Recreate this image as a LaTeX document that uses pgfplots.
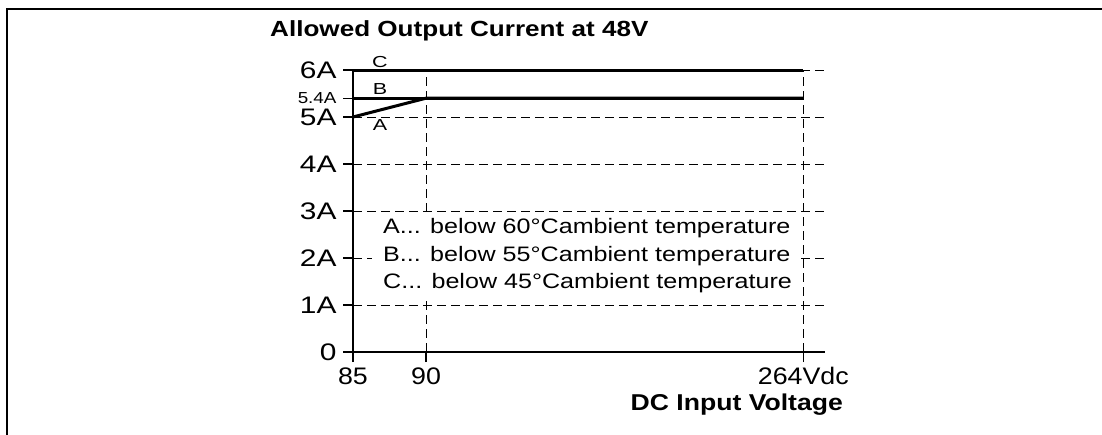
\documentclass[border=0pt]{standalone}
\usepackage{fontspec}
\setmainfont{Liberation Sans}
\usepackage{pgfplots}
\pgfplotsset{compat=1.18}
\newcommand{\sx}[2]{\scalebox{#1}[1]{#2}}
\begin{document}
\begin{tikzpicture}
\useasboundingbox (0,0) rectangle (1102bp,435bp);
\begin{scope}
\clip (0,0) rectangle (1102bp,435bp);
\draw[line width=2.2bp] (7bp,-20bp) -- (7bp,426bp) -- (1120bp,426bp);
\end{scope}
\begin{axis}[
  at={(353bp,83bp)}, anchor=south west,
  scale only axis, width=472bp, height=282bp,
  x coord trafo/.code={\pgfmathparse{(#1<=90) ? (#1-85)*14.6 : 73+(#1-90)*2.166667}},
  xmin=85, xmax=274, ymin=0, ymax=6,
  axis lines=left, axis line style={-, line width=1.6bp},
  xtick={85,90,264}, xticklabels={\sx{1.12}{85},\sx{1.12}{90},\sx{1.12}{264Vdc}},
  ytick={0,1,2,3,4,5,6}, yticklabels={\sx{1.25}{0},\sx{1.25}{1A},\sx{1.25}{2A},\sx{1.25}{3A},\sx{1.25}{4A},\sx{1.25}{5A},\sx{1.25}{6A}},
  extra y ticks={5.4}, extra y tick labels={\sx{1.18}{5.4A}},
  extra y tick style={grid=none, tick label style={font=\fontsize{16}{16}\selectfont}},
  tick align=outside, major tick length=10bp, tick style={line width=1.3bp, black},
  grid=major, major grid style={line width=0.8bp, black, dash pattern=on 9bp off 5bp},
  tick label style={font=\fontsize{24}{24}\selectfont},
  yticklabel style={xshift=-3bp},
  xticklabel style={yshift=-2bp},
  /pgf/number format/assume math mode=true,
  clip=false,
]
\addplot[line width=3bp, black] coordinates {(85,6) (264,6)};
\addplot[line width=3bp, black] coordinates {(85,5.4) (264,5.4)};
\addplot[line width=3bp, black] coordinates {(85,5) (90,5.4) (264,5.4)};
\end{axis}
\begin{scope}[x=1bp, y=-1bp, yshift=435bp]
\fill[white] (372,216) rectangle (800,300);
\node[anchor=west, inner sep=0pt, font=\fontsize{21}{21}\selectfont] at (383,228) {\sx{1.2}{A... below 60°Cambient temperature}};
\node[anchor=west, inner sep=0pt, font=\fontsize{21}{21}\selectfont] at (383,256) {\sx{1.2}{B... below 55°Cambient temperature}};
\node[anchor=west, inner sep=0pt, font=\fontsize{21}{21}\selectfont] at (383,283) {\sx{1.2}{C... below 45°Cambient temperature}};
\node[inner sep=0pt, font=\fontsize{16}{16}\selectfont] at (380,62) {\sx{1.35}{C}};
\node[inner sep=0pt, font=\fontsize{16}{16}\selectfont] at (380,89) {\sx{1.35}{B}};
\node[inner sep=0pt, font=\fontsize{16}{16}\selectfont] at (380,125) {\sx{1.35}{A}};
\node[anchor=west, inner sep=0pt, font=\bfseries\fontsize{22}{22}\selectfont] at (270,31) {\sx{1.19}{Allowed Output Current at 48V}};
\node[anchor=east, inner sep=0pt, font=\bfseries\fontsize{23}{23}\selectfont] at (843,405) {\sx{1.16}{DC Input Voltage}};
\end{scope}
\end{tikzpicture}
\end{document}
